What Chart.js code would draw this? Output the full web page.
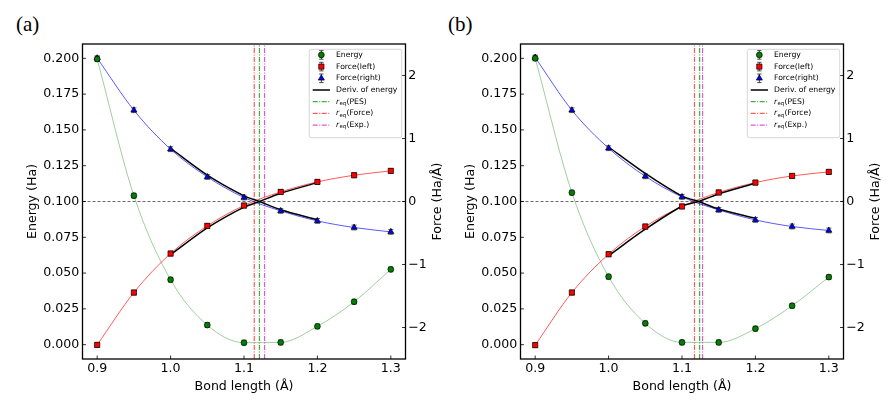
<!DOCTYPE html>
<html>
<head>
<meta charset="utf-8">
<script src="https://cdn.jsdelivr.net/npm/chart.js@4.4.0/dist/chart.umd.min.js"></script>
<style>
  html, body { margin: 0; padding: 0; background: #fff; }
  body { width: 894px; height: 401px; position: relative; overflow: hidden; }
  .panel { position: absolute; top: 0; width: 447px; height: 401px; }
  .tag { position: absolute; top: 14px; font-family: "Liberation Serif", serif; font-size: 21px; line-height: 21px; color: #000; }
</style>
</head>
<body>
<div class="tag" style="left:16px">(a)</div>
<div class="tag" style="left:448px">(b)</div>
<div class="panel" style="left:0"><canvas id="chartA"></canvas></div>
<div class="panel" style="left:438px"><canvas id="chartB"></canvas></div>
<script>
// Данные, общие для обеих панелей
const bondLength = [0.9, 0.95, 1.0, 1.05, 1.1, 1.15, 1.2, 1.25, 1.3];
const bondTicks = [0.9, 1.0, 1.1, 1.2, 1.3];
const energyTicks = [0, 0.025, 0.05, 0.075, 0.1, 0.125, 0.15, 0.175, 0.2];
const forceTicks = [-2, -1, 0, 1, 2];
const bondRange = [0.88, 1.32];
const energyRange = [-0.01, 0.21];
const forceRange = [-2.5, 2.5];

// Панель (a)
const energyA = [0.1995, 0.1041, 0.0454, 0.0137, 0.0014, 0.0016, 0.0128, 0.0300, 0.0526];
const forceLeftA = [-2.276, -1.445, -0.826, -0.387, -0.064, 0.152, 0.311, 0.417, 0.486];
const forceRightA = [2.275, 1.449, 0.830, 0.390, 0.063, -0.149, -0.308, -0.413, -0.482];
const derivBondA = [1.0, 1.05, 1.1, 1.121, 1.15, 1.2];
const derivUpperA = [0.845, 0.42, 0.09, 0, 0.13, 0.30];
const derivLowerA = [-0.845, -0.42, -0.09, 0, -0.13, -0.29];
const reqA = [1.121, 1.114, 1.128]; // PES, Force, Exp.

// Панель (b)
const energyB = [0.2000, 0.1062, 0.0475, 0.0149, 0.0016, 0.0016, 0.0112, 0.0272, 0.0472];
const forceLeftB = [-2.280, -1.445, -0.837, -0.397, -0.079, 0.143, 0.300, 0.406, 0.470];
const forceRightB = [2.286, 1.449, 0.846, 0.400, 0.073, -0.133, -0.292, -0.397, -0.460];
const derivBondB = [1.0, 1.05, 1.1, 1.123, 1.15, 1.2];
const derivUpperB = [0.865, 0.445, 0.085, 0, 0.12, 0.29];
const derivLowerB = [-0.86, -0.44, -0.075, 0, -0.12, -0.265];
const reqB = [1.124, 1.117, 1.128];

const FONT = 'DejaVu Sans';
const DASH_DOT = [5, 1.5, 1, 1.5];
const reqLabels = ['r_eq(PES)', 'r_eq(Force)', 'r_eq(Exp.)'];
const reqColors = ['rgba(0,150,0,0.75)', 'rgba(255,0,0,0.65)', 'rgba(200,0,200,0.65)'];

function pts(xs, ys) {
    return xs.map((x, i) => ({ x, y: ys[i] }));
}

// Ветвь производной делится в точке нуля, чтобы излом остался острым
function branchParts(xs, ys) {
    const k = ys.indexOf(0);
    return [pts(xs.slice(0, k + 1), ys.slice(0, k + 1)), pts(xs.slice(k), ys.slice(k))];
}

function buildDatasets(energy, fLeft, fRight, dX, dUp, dLow, req) {
    const markers = [
        { label: 'Energy', data: pts(bondLength, energy), yAxisID: 'y', pointStyle: 'circle', pointRadius: 2.9,
          backgroundColor: '#008000', legendRow: 0 },
        { label: 'Force(left)', data: pts(bondLength, fLeft), yAxisID: 'y2', pointStyle: 'rect', pointRadius: 3.7,
          backgroundColor: '#ff0000', legendRow: 1 },
        { label: 'Force(right)', data: pts(bondLength, fRight), yAxisID: 'y2', pointStyle: 'triangle', pointRadius: 3.5,
          backgroundColor: '#0000ff', legendRow: 2 }
    ].map(d => Object.assign(d, { showLine: false, borderColor: '#000', borderWidth: 0.7, errorBars: true }));

    const deriv = [...branchParts(dX, dUp), ...branchParts(dX, dLow)].map((data, i) => ({
        label: 'Deriv. of energy', data, yAxisID: 'y2', showLine: true, pointRadius: 0,
        borderColor: '#000', borderWidth: 1.5, tension: 0.3, legendRow: i === 0 ? 3 : undefined
    }));

    const fits = [
        { data: pts(bondLength, fLeft), yAxisID: 'y2', borderColor: 'rgba(255,0,0,0.65)' },
        { data: pts(bondLength, fRight), yAxisID: 'y2', borderColor: 'rgba(0,0,255,0.65)' },
        { data: pts(bondLength, energy), yAxisID: 'y', borderColor: 'rgba(0,128,0,0.38)' }
    ].map(d => Object.assign(d, { showLine: true, pointRadius: 0, borderWidth: 1, cubicInterpolationMode: 'monotone' }));

    const zero = {
        data: [{ x: bondRange[0], y: 0 }, { x: bondRange[1], y: 0 }], yAxisID: 'y2', showLine: true,
        pointRadius: 0, borderColor: '#444', borderWidth: 0.8, borderDash: [3, 2]
    };

    const lines = req.map((r, i) => ({
        label: reqLabels[i], data: [{ x: r, y: energyRange[0] }, { x: r, y: energyRange[1] }], yAxisID: 'y',
        showLine: true, pointRadius: 0, borderColor: reqColors[i], borderWidth: 1.2, borderDash: DASH_DOT,
        legendRow: 4 + i
    }));

    return [...markers, ...deriv, ...fits, zero, ...lines];
}

function drawErrorBar(ctx, x, y, half, cap) {
    ctx.beginPath();
    ctx.moveTo(x, y - half); ctx.lineTo(x, y + half);
    ctx.moveTo(x - cap, y - half); ctx.lineTo(x + cap, y - half);
    ctx.moveTo(x - cap, y + half); ctx.lineTo(x + cap, y + half);
    ctx.stroke();
}

function drawLabel(ctx, text, x, y) {
    if (!text.startsWith('r_eq')) {
        ctx.font = '7.7px ' + FONT;
        ctx.fillText(text, x, y);
        return;
    }
    ctx.font = 'italic 7.7px ' + FONT;
    ctx.fillText('r', x, y);
    x += ctx.measureText('r').width + 0.3;
    ctx.font = '5.4px ' + FONT;
    ctx.fillText('eq', x, y + 1.8);
    x += ctx.measureText('eq').width + 0.2;
    ctx.font = '7.7px ' + FONT;
    ctx.fillText(text.slice(4), x, y);
}

function drawLegend(chart) {
    const { ctx, chartArea: a } = chart;
    const items = chart.data.datasets.filter(d => d.legendRow !== undefined)
        .sort((p, q) => p.legendRow - q.legendRow);
    const w = 92.4, h = 88.4;
    const left = a.right - 3.8 - w, top = a.top + 5.3;
    ctx.save();
    ctx.beginPath();
    ctx.roundRect(left, top, w, h, 2);
    ctx.fillStyle = 'rgba(255,255,255,0.85)';
    ctx.fill();
    ctx.strokeStyle = '#cccccc';
    ctx.lineWidth = 0.8;
    ctx.stroke();
    items.forEach((d, i) => {
        const cy = top + 5.6 + i * 11.7;
        const x0 = left + 3.4, x1 = left + 20.7, xc = (x0 + x1) / 2;
        if (d.showLine === false) {
            ctx.strokeStyle = '#222';
            ctx.lineWidth = 0.8;
            ctx.setLineDash([]);
            drawErrorBar(ctx, xc, cy, 4.3, 2.2);
            ctx.fillStyle = d.backgroundColor;
            ctx.strokeStyle = d.borderColor;
            ctx.lineWidth = d.borderWidth;
            Chart.helpers.drawPoint(ctx, { pointStyle: d.pointStyle, radius: d.pointRadius, borderWidth: d.borderWidth, rotation: 0 }, xc, cy);
        } else {
            ctx.strokeStyle = d.borderColor;
            ctx.lineWidth = d.borderWidth;
            ctx.setLineDash(d.borderDash || []);
            ctx.beginPath();
            ctx.moveTo(x0, cy); ctx.lineTo(x1, cy);
            ctx.stroke();
            ctx.setLineDash([]);
        }
        ctx.fillStyle = '#000';
        ctx.textAlign = 'left';
        ctx.textBaseline = 'middle';
        drawLabel(ctx, d.label, left + 26.7, cy);
    });
    ctx.restore();
}

// Рамка, внутренние засечки, подпись правой оси и легенда
const panelDecor = {
    id: 'panelDecor',
    beforeDatasetDraw(chart, args) {
        const ds = chart.data.datasets[args.index];
        if (!ds.errorBars) return;
        const ctx = chart.ctx;
        ctx.save();
        ctx.strokeStyle = '#222';
        ctx.lineWidth = 0.7;
        args.meta.data.forEach(p => drawErrorBar(ctx, p.x, p.y, 2.4, 2.6));
        ctx.restore();
    },
    afterDraw(chart) {
        const { ctx, chartArea: a, scales } = chart;
        ctx.save();
        ctx.strokeStyle = '#000';
        ctx.lineWidth = 0.8;
        ctx.beginPath();
        bondTicks.forEach(v => {
            const px = scales.x.getPixelForValue(v);
            ctx.moveTo(px, a.bottom); ctx.lineTo(px, a.bottom - 3.5);
        });
        energyTicks.forEach(v => {
            const py = scales.y.getPixelForValue(v);
            ctx.moveTo(a.left, py); ctx.lineTo(a.left + 3.5, py);
        });
        forceTicks.forEach(v => {
            const py = scales.y2.getPixelForValue(v);
            ctx.moveTo(a.right, py); ctx.lineTo(a.right - 3.5, py);
        });
        ctx.stroke();
        ctx.lineWidth = 1.3;
        ctx.strokeRect(a.left, a.top, a.right - a.left, a.bottom - a.top);

        ctx.translate(chart.width - 9, (a.top + a.bottom) / 2);
        ctx.rotate(-Math.PI / 2);
        ctx.fillStyle = '#000';
        ctx.font = '12.6px ' + FONT;
        ctx.textAlign = 'center';
        ctx.textBaseline = 'middle';
        ctx.fillText('Force (Ha/Å)', 0, 0);
        ctx.restore();
        drawLegend(chart);
    }
};

const tickFont = { family: FONT, size: 12.6 };

function makeChart(id, datasets) {
    return new Chart(document.getElementById(id), {
        type: 'scatter',
        data: { datasets },
        options: {
            responsive: true,
            maintainAspectRatio: false,
            animation: false,
            events: [],
            layout: { padding: { top: 44, left: 0, right: 0, bottom: 0 } },
            plugins: { legend: { display: false }, tooltip: { enabled: false } },
            scales: {
                x: {
                    type: 'linear', min: bondRange[0], max: bondRange[1],
                    afterBuildTicks: s => { s.ticks = bondTicks.map(v => ({ value: v })); },
                    afterFit: s => { s.height = 42; },
                    grid: { display: false, drawTicks: false }, border: { display: false },
                    ticks: { font: tickFont, color: '#000', padding: 2.5, maxRotation: 0, callback: v => v.toFixed(1) },
                    title: { display: true, text: 'Bond length (Å)', font: tickFont, color: '#000', padding: { top: 0, bottom: 7 } }
                },
                y: {
                    type: 'linear', position: 'left', min: energyRange[0], max: energyRange[1],
                    afterBuildTicks: s => { s.ticks = energyTicks.map(v => ({ value: v })); },
                    afterFit: s => { s.width = 82.5; },
                    grid: { display: false, drawTicks: false }, border: { display: false },
                    ticks: { font: tickFont, color: '#000', padding: 3.2, callback: v => v.toFixed(3) },
                    title: { display: true, text: 'Energy (Ha)', font: tickFont, color: '#000', padding: { top: 25, bottom: 0 } }
                },
                y2: {
                    type: 'linear', position: 'right', min: forceRange[0], max: forceRange[1],
                    afterBuildTicks: s => { s.ticks = forceTicks.map(v => ({ value: v })); },
                    afterFit: s => { s.width = 41.5; },
                    grid: { display: false, drawTicks: false }, border: { display: false },
                    ticks: { font: tickFont, color: '#000', padding: 2.8, callback: v => (v < 0 ? '\u2212' + Math.abs(v) : String(v)) }
                }
            }
        },
        plugins: [panelDecor]
    });
}

makeChart('chartA', buildDatasets(energyA, forceLeftA, forceRightA, derivBondA, derivUpperA, derivLowerA, reqA));
makeChart('chartB', buildDatasets(energyB, forceLeftB, forceRightB, derivBondB, derivUpperB, derivLowerB, reqB));
</script>
</body>
</html>
